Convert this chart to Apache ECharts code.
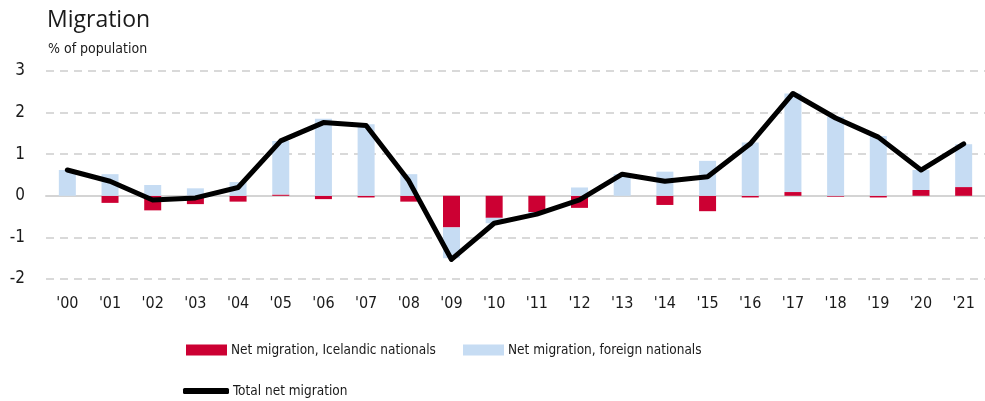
<!DOCTYPE html>
<html>
<head>
<meta charset="utf-8">
<script src="https://cdn.jsdelivr.net/npm/echarts@6/dist/echarts.min.js"></script>
<style>
  html, body { margin: 0; padding: 0; background: #fff; }
  #main { width: 985px; height: 401px; }
</style>
</head>
<body>
<div id="main"></div>
<script>
var chartDom = document.getElementById('main');
var myChart = echarts.init(chartDom);
var option;

const NARROW = "'Liberation Sans Narrow', 'DejaVu Sans Condensed', 'Roboto Condensed', sans-serif";
const redColor = '#CC0033';
const blueColor = '#C6DCF3';

const years = ["'00", "'01", "'02", "'03", "'04", "'05", "'06", "'07", "'08", "'09", "'10",
  "'11", "'12", "'13", "'14", "'15", "'16", "'17", "'18", "'19", "'20", "'21"];

// % of population
const icelandic = [0, -0.17, -0.35, -0.2, -0.14, 0.03, -0.08, -0.04, -0.14, -0.76, -0.53,
  -0.39, -0.29, 0, -0.22, -0.37, -0.04, 0.09, -0.02, -0.04, 0.14, 0.21];
const foreign = [0.62, 0.52, 0.26, 0.18, 0.33, 1.29, 1.85, 1.72, 0.52, -0.74, -0.13,
  -0.05, 0.2, 0.52, 0.58, 0.84, 1.28, 2.37, 1.9, 1.44, 0.48, 1.03];
const total = [0.62, 0.35, -0.1, -0.05, 0.2, 1.32, 1.76, 1.69, 0.36, -1.53, -0.66,
  -0.44, -0.1, 0.52, 0.35, 0.46, 1.25, 2.46, 1.87, 1.41, 0.62, 1.25];

const yTicks = [-2, -1, 0, 1, 2, 3];

const legendText = { fontFamily: NARROW, fontSize: 13.5, color: '#1a1a1a', padding: [0, 0, 0, -1] };

option = {
  animation: false,
  title: [
    {
      text: 'Migration',
      left: 42,
      top: 4,
      textStyle: { fontFamily: "'Open Sans', sans-serif", fontSize: 23, fontWeight: 'normal', color: '#1a1a1a' }
    },
    {
      text: '% of population',
      left: 43,
      top: 37,
      textStyle: { fontFamily: NARROW, fontSize: 14, fontWeight: 'normal', color: '#1a1a1a' }
    }
  ],
  legend: [
    {
      data: [{ name: 'Net migration, Icelandic nationals', icon: 'rect' }],
      left: 181,
      top: 338,
      itemWidth: 41,
      itemHeight: 11,
      itemGap: 4,
      textStyle: legendText
    },
    {
      data: [{ name: 'Net migration, foreign nationals', icon: 'rect' }],
      left: 458,
      top: 338,
      itemWidth: 41,
      itemHeight: 11,
      textStyle: legendText
    },
    {
      data: [{ name: 'Total net migration', icon: 'roundRect' }],
      left: 178,
      top: 379,
      itemWidth: 46,
      itemHeight: 6,
      textStyle: legendText
    }
  ],
  grid: {
    left: 46,
    right: -6,
    top: 71,
    bottom: 122,
    containLabel: false
  },
  xAxis: {
    type: 'category',
    data: years,
    axisLine: { onZero: true, lineStyle: { color: '#d4d4d4', width: 2 } },
    axisTick: { show: false },
    axisLabel: {
      margin: 17,
      fontFamily: NARROW,
      fontSize: 16,
      color: '#1a1a1a',
      interval: 0
    },
    splitLine: { show: false }
  },
  yAxis: {
    type: 'value',
    min: yTicks[0],
    max: yTicks[yTicks.length - 1],
    interval: 1,
    axisLine: { show: false },
    axisTick: { show: false },
    axisLabel: {
      margin: 21,
      fontFamily: NARROW,
      fontSize: 17,
      color: '#1a1a1a'
    },
    splitLine: {
      lineStyle: { color: '#d9d9d9', width: 2, type: [8, 6] }
    }
  },
  series: [
    {
      name: 'Net migration, Icelandic nationals',
      type: 'bar',
      stack: 'net',
      data: icelandic,
      barWidth: 17,
      itemStyle: { color: redColor }
    },
    {
      name: 'Net migration, foreign nationals',
      type: 'bar',
      stack: 'net',
      data: foreign,
      barWidth: 17,
      itemStyle: { color: blueColor }
    },
    {
      name: 'Total net migration',
      type: 'line',
      data: total,
      symbol: 'none',
      z: 5,
      lineStyle: { color: '#000', width: 5, cap: 'round', join: 'round' },
      itemStyle: { color: '#000' }
    }
  ]
};

option && myChart.setOption(option);
</script>
</body>
</html>
